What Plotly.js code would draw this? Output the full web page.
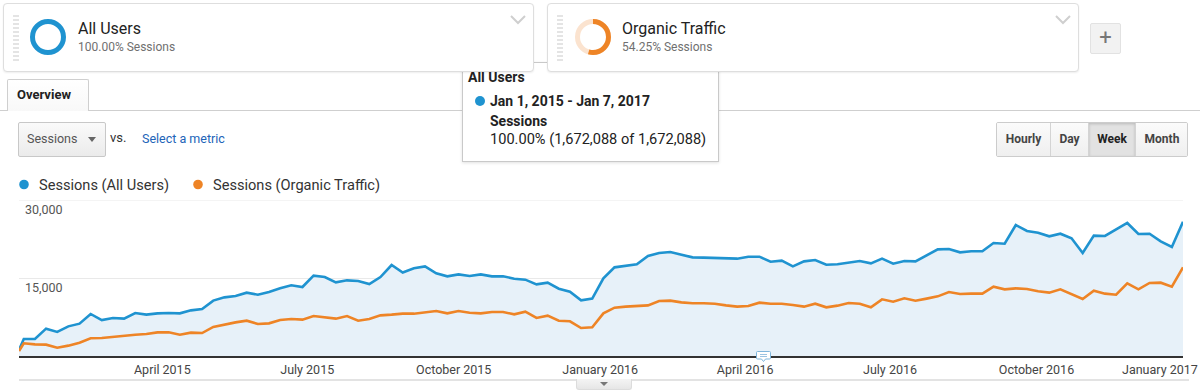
<!DOCTYPE html>
<html>
<head>
<meta charset="utf-8">
<script src="https://cdn.plot.ly/plotly-3.0.1.min.js"></script>
<style>
html,body{margin:0;padding:0;background:#fff;}
body{width:1200px;height:392px;overflow:hidden;position:relative;font-family:Roboto,Arial,sans-serif;color:#222;}
#chart{position:absolute;left:0;top:0;width:1200px;height:392px;z-index:0;}
.a{position:absolute;white-space:nowrap;}
.seg{position:absolute;top:3px;height:69px;box-sizing:border-box;border:1px solid #dedede;border-radius:4px;background:#fff;box-shadow:0 1px 2px rgba(0,0,0,0.07);z-index:5;}
.grip{position:absolute;width:6px;height:47px;top:15px;background:repeating-linear-gradient(#e4e4e4 0 2px,transparent 2px 4px);z-index:6;}
.segt{font-size:16px;color:#222;line-height:20px;z-index:6;}
.segs{font-size:12px;color:#707070;line-height:16px;z-index:6;}
.tip{font-size:14px;line-height:18px;color:#222;z-index:4;}
.btn{position:absolute;top:0;height:33px;line-height:33px;text-align:center;font-size:12px;font-weight:bold;color:#444;background:linear-gradient(#fbfbfb,#efefef);border-right:1px solid #d4d4d4;box-sizing:border-box;}
</style>
</head>
<body>
<div id="chart"></div>

<!-- tooltip (behind segment boxes) -->
<div class="a" style="left:462px;top:62px;width:257px;height:100px;box-sizing:border-box;border:1px solid #c9c9c9;background:#fff;box-shadow:0 1px 3px rgba(0,0,0,0.12);z-index:4;"></div>
<div class="a tip" style="left:468px;top:68px;font-weight:bold;">All Users</div>
<div class="a" style="left:475px;top:96px;width:10px;height:10px;border-radius:50%;background:#1f93d0;z-index:4;"></div>
<div class="a tip" style="left:490px;top:92px;font-weight:bold;">Jan 1, 2015 - Jan 7, 2017</div>
<div class="a tip" style="left:490px;top:112px;font-weight:bold;">Sessions</div>
<div class="a tip" style="left:490px;top:130px;font-size:14.6px;">100.00% (1,672,088 of 1,672,088)</div>

<!-- segment box 1 -->
<div class="seg" style="left:3px;width:531px;"></div>
<div class="grip" style="left:13px;"></div>
<svg class="a" style="left:28px;top:17px;z-index:6;" width="40" height="40">
  <circle cx="20" cy="20" r="15.5" fill="none" stroke="#1f93d0" stroke-width="5"/>
</svg>
<div class="a segt" style="left:78px;top:19px;">All Users</div>
<div class="a segs" style="left:78px;top:39px;">100.00% Sessions</div>
<svg class="a" style="left:508px;top:12px;z-index:6;" width="20" height="14">
  <polyline points="3,4 10,11 17,4" fill="none" stroke="#cfcfcf" stroke-width="2"/>
</svg>

<!-- segment box 2 -->
<div class="seg" style="left:547px;width:532px;"></div>
<div class="grip" style="left:557px;"></div>
<svg class="a" style="left:573px;top:17px;z-index:6;" width="40" height="40">
  <circle cx="20" cy="20" r="15.5" fill="none" stroke="#fbe3cf" stroke-width="5"/>
  <circle cx="20" cy="20" r="15.5" fill="none" stroke="#ee8426" stroke-width="5"
          stroke-dasharray="52.83 97.4" transform="rotate(-90 20 20)"/>
</svg>
<div class="a segt" style="left:622px;top:19px;">Organic Traffic</div>
<div class="a segs" style="left:622px;top:39px;">54.25% Sessions</div>
<svg class="a" style="left:1053px;top:12px;z-index:6;" width="20" height="14">
  <polyline points="3,4 10,11 17,4" fill="none" stroke="#cfcfcf" stroke-width="2"/>
</svg>

<!-- plus button -->
<div class="a" style="left:1090px;top:23px;width:31px;height:31px;box-sizing:border-box;background:#f2f2f2;border:1px solid #e2e2e2;border-radius:2px;text-align:center;line-height:27px;font-size:22px;color:#777;z-index:1;">+</div>

<!-- tab line and tab -->
<div class="a" style="left:0;top:110px;width:1200px;height:1px;background:#cfcfcf;z-index:1;"></div>
<div class="a" style="left:7px;top:79px;width:82px;height:32px;box-sizing:border-box;border:1px solid #cfcfcf;border-bottom:none;border-radius:2px 2px 0 0;background:linear-gradient(#ffffff,#f8f8f8);z-index:2;"></div>
<div class="a" style="left:17px;top:86px;font-size:13px;line-height:17px;font-weight:bold;color:#222;z-index:3;">Overview</div>

<!-- metric dropdown -->
<div class="a" style="left:18px;top:122px;width:88px;height:35px;box-sizing:border-box;border:1px solid #c8c8c8;border-radius:2px;background:linear-gradient(#fafafa,#ebebeb);z-index:1;"></div>
<div class="a" style="left:27px;top:131px;font-size:12.5px;line-height:16px;color:#555;z-index:2;">Sessions</div>
<div class="a" style="left:88px;top:137px;width:0;height:0;border-left:4px solid transparent;border-right:4px solid transparent;border-top:5px solid #666;z-index:2;"></div>
<div class="a" style="left:110px;top:130px;font-size:13px;line-height:16px;color:#333;z-index:2;">vs.</div>
<div class="a" style="left:142px;top:131px;font-size:12.5px;line-height:16px;color:#2164b8;z-index:2;">Select a metric</div>

<!-- period buttons -->
<div class="a" style="left:996px;top:122px;width:192px;height:35px;box-sizing:border-box;border:1px solid #cccccc;border-radius:2px;overflow:hidden;z-index:1;">
  <div class="btn" style="left:0;width:54px;">Hourly</div>
  <div class="btn" style="left:54px;width:38px;">Day</div>
  <div class="btn" style="left:92px;width:47px;background:#e2e2e2;box-shadow:inset 0 1px 3px rgba(0,0,0,0.18);color:#222;">Week</div>
  <div class="btn" style="left:139px;width:52px;border-right:none;">Month</div>
</div>

<!-- annotation icon -->
<svg class="a" style="left:755px;top:350px;z-index:2;" width="17" height="13">
  <path d="M2.5,1.5 H14.5 Q15.5,1.5 15.5,2.5 V8 Q15.5,9 14.5,9 H10.5 L8.5,11.5 L6.5,9 H2.5 Q1.5,9 1.5,8 V2.5 Q1.5,1.5 2.5,1.5 Z" fill="#fff" stroke="#7fb6dc" stroke-width="1"/>
  <line x1="5" y1="4.5" x2="12" y2="4.5" stroke="#9cc4e2" stroke-width="1"/>
  <line x1="5" y1="6.5" x2="12" y2="6.5" stroke="#9cc4e2" stroke-width="1"/>
</svg>

<!-- bottom scroll bar -->
<div class="a" style="left:19px;top:379px;width:1170px;height:2px;background:#e3e3e3;z-index:1;"></div>
<div class="a" style="left:576px;top:379px;width:56px;height:11px;box-sizing:border-box;border:1px solid #dcdcdc;border-top:none;border-radius:0 0 3px 3px;background:linear-gradient(#f4f4f4,#e6e6e6);z-index:2;"></div>
<div class="a" style="left:600px;top:382px;width:0;height:0;border-left:4px solid transparent;border-right:4px solid transparent;border-top:4px solid #777;z-index:3;"></div>

<script>
// ---- data ----
var weeks = ['2015-01-01','2015-01-04','2015-01-11','2015-01-18','2015-01-25','2015-02-01','2015-02-08','2015-02-15','2015-02-22','2015-03-01',
'2015-03-08','2015-03-15','2015-03-22','2015-03-29','2015-04-05','2015-04-12','2015-04-19','2015-04-26','2015-05-03','2015-05-10',
'2015-05-17','2015-05-24','2015-05-31','2015-06-07','2015-06-14','2015-06-21','2015-06-28','2015-07-05','2015-07-12','2015-07-19',
'2015-07-26','2015-08-02','2015-08-09','2015-08-16','2015-08-23','2015-08-30','2015-09-06','2015-09-13','2015-09-20','2015-09-27',
'2015-10-04','2015-10-11','2015-10-18','2015-10-25','2015-11-01','2015-11-08','2015-11-15','2015-11-22','2015-11-29','2015-12-06',
'2015-12-13','2015-12-20','2015-12-27','2016-01-03','2016-01-10','2016-01-17','2016-01-24','2016-01-31','2016-02-07','2016-02-14',
'2016-02-21','2016-02-28','2016-03-06','2016-03-13','2016-03-20','2016-03-27','2016-04-03','2016-04-10','2016-04-17','2016-04-24',
'2016-05-01','2016-05-08','2016-05-15','2016-05-22','2016-05-29','2016-06-05','2016-06-12','2016-06-19','2016-06-26','2016-07-03',
'2016-07-10','2016-07-17','2016-07-24','2016-07-31','2016-08-07','2016-08-14','2016-08-21','2016-08-28','2016-09-04','2016-09-11',
'2016-09-18','2016-09-25','2016-10-02','2016-10-09','2016-10-16','2016-10-23','2016-10-30','2016-11-06','2016-11-13','2016-11-20',
'2016-11-27','2016-12-04','2016-12-11','2016-12-18','2016-12-25','2017-01-01'];

var allUsers = [1150,3270,3270,5260,4620,5700,6220,8080,6920,7310,
7180,8270,7950,8200,8270,8200,8780,9040,10650,11280,
11540,12180,11790,12310,13010,13590,13270,15450,15190,14170,
14550,14420,13850,15190,17500,16060,16860,17240,15900,15320,
15700,15380,15700,15320,15320,14870,14680,13780,14100,12950,
12370,10700,11030,14940,17050,17310,17630,19230,19810,20000,
19490,18970,18910,18850,18780,18720,19100,19100,18140,18330,
17240,18200,18460,17560,17630,17950,18270,17820,18720,17760,
18270,18200,19360,20510,20580,19940,20130,20130,21730,21600,
25190,24040,23720,23010,23520,22630,19810,23140,23080,24290,
25580,23460,23520,22050,20960,25830];

var organic = [960,2440,2240,2180,1600,1990,2560,3400,3460,3720,
3850,4100,4230,4550,4550,4100,4490,4420,5600,6090,
6470,6790,6150,6280,6920,7120,6990,7690,7370,7180,
7690,6790,7120,7820,7950,8150,8140,8400,8650,8200,
8650,8330,8200,8460,8460,8010,8530,7310,7760,6790,
6670,5380,5510,8200,9290,9490,9550,9740,10580,10640,
10320,10130,10130,10060,9740,9490,9620,10260,10060,10060,
9810,9490,10060,9360,9680,10190,10060,9360,10900,10450,
11090,10640,11030,11470,12310,11920,11990,11990,13330,12820,
13010,12880,12440,12180,12820,11860,10960,12560,11990,11790,
13970,12820,14040,14100,13330,17050];

var seriesNames = ['Sessions (All Users)', 'Sessions (Organic Traffic)'];
var seriesColors = ['#1f93d0', '#ee8426'];

var xTickVals = ['2015-04-01','2015-07-01','2015-10-01','2016-01-01','2016-04-01','2016-07-01','2016-10-01'];
var xTickText = ['April 2015','July 2015','October 2015','January 2016','April 2016','July 2016','October 2016'];
var lastTickText = 'January 2017';
var yTickVals = [15000, 30000];
var yTickText = ['15,000', '30,000'];

// ---- layout helpers (pixel -> paper) ----
var L = 19, R = 1183, T = 200, B = 356;
function px(x){ return (x - L) / (R - L); }
function py(y){ return (B - y) / (B - T); }

var traces = [
  {x: weeks, y: allUsers, type: 'scatter', mode: 'lines', name: seriesNames[0],
   line: {color: seriesColors[0], width: 2.6}, fill: 'tozeroy', fillcolor: '#e7f1f9', hoverinfo: 'skip'},
  {x: weeks, y: organic, type: 'scatter', mode: 'lines', name: seriesNames[1],
   line: {color: seriesColors[1], width: 2.6}, hoverinfo: 'skip'}
];

var layout = {
  width: 1200, height: 392,
  margin: {l: L, r: 1200 - R, t: T, b: 392 - B, pad: 0},
  paper_bgcolor: 'rgba(0,0,0,0)', plot_bgcolor: 'rgba(0,0,0,0)',
  font: {family: 'Roboto, Arial, sans-serif', color: '#444'},
  showlegend: false,
  xaxis: {
    type: 'date', range: ['2015-01-01', '2017-01-01'],
    tickvals: xTickVals, ticktext: xTickText, ticks: '',
    showgrid: false, zeroline: false,
    showline: true, linecolor: '#333', linewidth: 1.5,
    tickfont: {size: 12.5, color: '#444'},
    ticklabelstandoff: 1, fixedrange: true
  },
  yaxis: {
    range: [0, 30000], tickvals: yTickVals, ticktext: yTickText, ticks: '',
    showgrid: true, gridcolor: '#e9e9e9', gridwidth: 1, zeroline: false, showline: false,
    ticklabelposition: 'inside', ticklabelshift: 10, ticklabelstandoff: 3,
    tickfont: {size: 12.5, color: '#555'}, fixedrange: true
  },
  shapes: [
    {type: 'line', xref: 'paper', yref: 'y', x0: 0, x1: 1, y0: yTickVals[1], y1: yTickVals[1],
     line: {color: '#e9e9e9', width: 1}, layer: 'below'},
    {type: 'circle', xref: 'paper', yref: 'paper', x0: px(19.2), x1: px(28.8), y0: py(189.3), y1: py(179.7),
     fillcolor: seriesColors[0], line: {width: 0}},
    {type: 'circle', xref: 'paper', yref: 'paper', x0: px(193.2), x1: px(202.8), y0: py(189.3), y1: py(179.7),
     fillcolor: seriesColors[1], line: {width: 0}}
  ],
  annotations: [
    {xref: 'paper', yref: 'paper', x: px(38), y: py(185), xanchor: 'left', yanchor: 'middle',
     text: seriesNames[0], showarrow: false, borderpad: 0, font: {size: 14.6, color: '#333'}},
    {xref: 'paper', yref: 'paper', x: px(212), y: py(185), xanchor: 'left', yanchor: 'middle',
     text: seriesNames[1], showarrow: false, borderpad: 0, font: {size: 14.6, color: '#333'}},
    {xref: 'paper', yref: 'paper', x: px(1199), y: py(369), xanchor: 'right', yanchor: 'middle',
     text: lastTickText, showarrow: false, borderpad: 0, font: {size: 12.5, color: '#444'}}
  ]
};

Plotly.newPlot('chart', traces, layout, {staticPlot: true, displayModeBar: false});
</script>
</body>
</html>
